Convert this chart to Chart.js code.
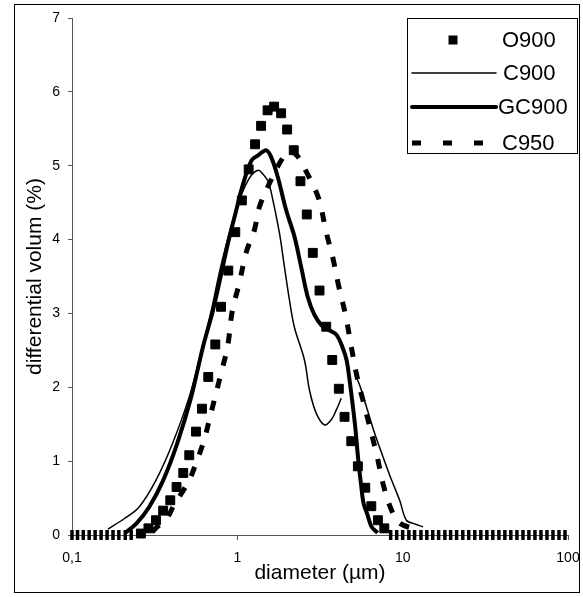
<!DOCTYPE html>
<html>
<head>
<meta charset="utf-8">
<script src="https://cdn.jsdelivr.net/npm/chart.js@4.4.0/dist/chart.umd.min.js"></script>
<style>
  html, body { margin: 0; padding: 0; background: #fff; }
  canvas { display: block; }
</style>
</head>
<body>
<canvas id="psdChart" width="583" height="597"></canvas>
<script>
// axis ticks
const xTicks = [0.1, 1, 10, 100];
const xTickLabels = ['0,1', '1', '10', '100'];

// O900 - squares (diameter in µm / differential volume in %)
const o900Diam = [0.1, 0.108, 0.117, 0.127, 0.138, 0.15, 0.163, 0.177, 0.192, 0.21, 0.228,
    0.261, 0.29, 0.322, 0.356, 0.393, 0.429, 0.471, 0.512, 0.562, 0.611, 0.667, 0.736, 0.797,
    0.882, 0.972, 1.065, 1.171, 1.28, 1.392, 1.524, 1.669, 1.84, 2.001, 2.194, 2.409, 2.63,
    2.86, 3.141, 3.448, 3.75, 4.111, 4.451, 4.888, 5.36, 5.941, 6.461, 7.084, 7.746,
    8.46, 9.2, 10, 10.9, 11.8, 12.9, 14, 15.2, 16.5, 18, 19.5, 21.2, 23.1, 25.1, 27.3, 29.7,
    32.3, 35.1, 38.2, 41.5, 45.1, 49.1, 53.4, 58, 63.1, 68.6, 74.6, 81.1, 88.2, 95.9];
const o900Vol = [0, 0, 0, 0, 0, 0, 0, 0, 0, 0, 0,
    0.02, 0.09, 0.2, 0.33, 0.47, 0.65, 0.84, 1.08, 1.4, 1.71, 2.14, 2.58, 3.09,
    3.58, 4.1, 4.53, 4.95, 5.29, 5.54, 5.75, 5.8, 5.71, 5.49, 5.21, 4.79, 4.34,
    3.82, 3.31, 2.82, 2.37, 1.98, 1.6, 1.27, 0.93, 0.64, 0.39, 0.2, 0.09,
    0, 0, 0, 0, 0, 0, 0, 0, 0, 0, 0, 0, 0, 0, 0, 0,
    0, 0, 0, 0, 0, 0, 0, 0, 0, 0, 0, 0, 0, 0];

// C900 - thin line (null = break in the line)
const c900Diam = [0.165, 0.2066, 0.2548, 0.3216, 0.4055, 0.5117, 0.616, 0.696, 0.778, 0.87,
    0.972, 1.087, 1.216, 1.341, 1.423, 1.526, 1.6, 1.797, 1.927, 2.067, 2.216, 2.547,
    2.732, 2.999, 3.368, 3.698, 3.963, 4.251, 4.7, 5.117, 5.49, 6.03, 6.76, 7.6, 8.58, 9.59,
    10.53, 11.82, 13.28];
const c900Vol = [0.08, 0.22, 0.38, 0.74, 1.24, 1.87, 2.55, 3.04, 3.55, 3.99,
    4.37, 4.67, 4.87, 4.94, 4.89, 4.8, 4.65, 4.09, 3.63, 3.18, 2.81, 2.37,
    1.96, 1.65, 1.49, 1.56, 1.69, 1.85, null, 2.19, 2.03, 1.74, 1.38, 1.06, 0.74, 0.47,
    0.2, 0.15, 0.11];

// GC900 - thick line
const gc900Diam = [0.2095, 0.244, 0.293, 0.356, 0.433, 0.526, 0.62, 0.712, 0.8, 0.886, 0.986,
    1.057, 1.216, 1.335, 1.493, 1.6, 1.755, 1.973, 2.216, 2.432, 2.668, 2.929, 3.228, 3.611,
    3.981, 4.329, 4.577, 4.773, 4.999, 5.189, 5.39, 5.605, 5.8, 6.136, 6.49, 7.06];
const gc900Vol = [0.03, 0.15, 0.38, 0.74, 1.24, 1.87, 2.55, 3.04, 3.54, 3.99, 4.4,
    4.67, 5.07, 5.14, 5.21, 5.12, 4.85, 4.4, 4.04, 3.63, 3.22, 2.98, 2.84, 2.77,
    2.71, 2.54, 2.37, 2.1, 1.74, 1.42, 1.01, 0.68, 0.43, 0.27, 0.11, 0.03];

// C950 - dashed line
const c950Diam = [0.3054, 0.3274, 0.3697, 0.415, 0.464, 0.512, 0.562, 0.631, 0.677, 0.726,
    0.797, 0.873, 0.933, 1.028, 1.129, 1.268, 1.359, 1.563, 1.874, 2.067, 2.31, 2.583, 2.991,
    3.184, 3.448, 3.765, 4.094, 4.513, 4.888, 5.242, 5.605, 6.026, 6.928, 7.78, 8.7, 9.59, 11.82];
const c950Vol = [0.04, 0.11, 0.2, 0.41, 0.58, 0.74, 0.97, 1.29, 1.56, 1.83,
    2.19, 2.55, 3.04, 3.41, 3.82, 4.13, 4.44, 4.76, 5.1, 5.2, 5.13, 4.94, 4.65,
    4.47, 4.1, 3.77, 3.38, 2.98, 2.55, 2.19, 1.92, 1.65, 1.11, 0.61, 0.3, 0.16, 0.08];

const FONT = '"Liberation Sans", Arial, sans-serif';

const toPoints = (xs, ys) => xs.map((x, i) => ({ x: x, y: ys[i] }));
const isZero = (c) => c.raw && c.raw.y === 0;

// white page, outer frame and the boxed legend
const frameAndLegend = {
    id: 'frameAndLegend',
    beforeDraw(chart) {
        const ctx = chart.ctx;
        ctx.save();
        ctx.fillStyle = '#fff';
        ctx.fillRect(0, 0, chart.width, chart.height);
        ctx.restore();
    },
    afterDraw(chart) {
        const ctx = chart.ctx;
        ctx.save();
        ctx.strokeStyle = '#000';
        ctx.lineWidth = 1;
        ctx.strokeRect(14.5, 4.5, 565, 588);

        // legend box
        ctx.fillStyle = '#fff';
        ctx.fillRect(407.5, 18.5, 170, 135);
        ctx.strokeRect(407.5, 18.5, 170, 135);

        const rowY = [40, 73, 107, 143];
        const textX = [502, 503, 498, 502];
        chart.data.datasets.forEach((ds, i) => {
            const y = rowY[i];
            ctx.fillStyle = '#000';
            ctx.strokeStyle = '#000';
            if (!ds.showLine) {
                ctx.fillRect(448.5, y - 4.5, 9, 9);
            } else {
                ctx.beginPath();
                ctx.lineWidth = ds.borderWidth;
                ctx.lineCap = ds.borderDash ? 'butt' : 'round';
                ctx.setLineDash(ds.borderDash ? [9, 22] : []);
                ctx.moveTo(412, y);
                ctx.lineTo(ds.borderDash ? 486 : 496, y);
                ctx.stroke();
                ctx.setLineDash([]);
            }
            ctx.font = '22px ' + FONT;
            ctx.textBaseline = 'middle';
            ctx.textAlign = 'left';
            ctx.fillText(ds.label, textX[i], y + 1);
        });
        ctx.restore();
    }
};

const ctx = document.getElementById('psdChart').getContext('2d');
new Chart(ctx, {
    type: 'scatter',
    data: {
        datasets: [
            {
                label: 'O900',
                data: toPoints(o900Diam, o900Vol),
                showLine: false,
                backgroundColor: '#000',
                borderColor: '#000',
                pointStyle: c => isZero(c) ? 'line' : 'rect',
                pointRotation: c => isZero(c) ? 90 : 0,
                pointRadius: c => isZero(c) ? 5 : 6.3,
                pointBorderWidth: c => isZero(c) ? 3.5 : 1,
                clip: false,
            },
            {
                label: 'C900',
                data: toPoints(c900Diam, c900Vol),
                showLine: true,
                spanGaps: false,
                borderColor: '#000',
                borderWidth: 1.5,
                pointRadius: 0,
                tension: 0.35,
            },
            {
                label: 'GC900',
                data: toPoints(gc900Diam, gc900Vol),
                showLine: true,
                borderColor: '#000',
                borderWidth: 4,
                pointRadius: 0,
                tension: 0.35,
            },
            {
                label: 'C950',
                data: toPoints(c950Diam, c950Vol),
                showLine: true,
                borderColor: '#000',
                borderWidth: 5,
                borderDash: [10, 13],
                pointRadius: 0,
                tension: 0.35,
            },
        ],
    },
    options: {
        responsive: false,
        animation: false,
        layout: { padding: { top: 18, right: 15, left: 0, bottom: 0 } },
        plugins: {
            legend: { display: false },
            tooltip: { enabled: false },
        },
        scales: {
            x: {
                type: 'logarithmic',
                min: 0.1,
                max: 100,
                afterBuildTicks: s => { s.ticks = xTicks.map(v => ({ value: v })); },
                afterFit: s => {
                    s.height = 62;
                    s.paddingLeft = 0;
                    s.paddingRight = 0;
                },
                ticks: {
                    autoSkip: false,
                    maxRotation: 0,
                    color: '#000',
                    padding: 10,
                    font: { family: FONT, size: 14 },
                    callback: v => {
                        const i = xTicks.indexOf(v);
                        return i < 0 ? '' : xTickLabels[i];
                    },
                },
                grid: { drawOnChartArea: false, tickLength: 5, color: '#555' },
                border: { color: '#555', width: 1 },
                title: {
                    display: true,
                    text: 'diameter (µm)',
                    color: '#000',
                    font: { family: FONT, size: 21 },
                    padding: { top: 0, bottom: 11 },
                },
            },
            y: {
                min: 0,
                max: 7,
                afterFit: s => {
                    s.width = 72;
                    s.paddingTop = 0;
                    s.paddingBottom = 0;
                },
                ticks: {
                    stepSize: 1,
                    color: '#000',
                    padding: 8,
                    font: { family: FONT, size: 14 },
                },
                grid: { drawOnChartArea: false, tickLength: 4, color: '#555' },
                border: { color: '#555', width: 1 },
                title: {
                    display: true,
                    text: 'differential volum (%)',
                    color: '#000',
                    font: { family: FONT, size: 21 },
                    padding: { top: 23, bottom: 0 },
                },
            },
        },
    },
    plugins: [frameAndLegend],
});
</script>
</body>
</html>
